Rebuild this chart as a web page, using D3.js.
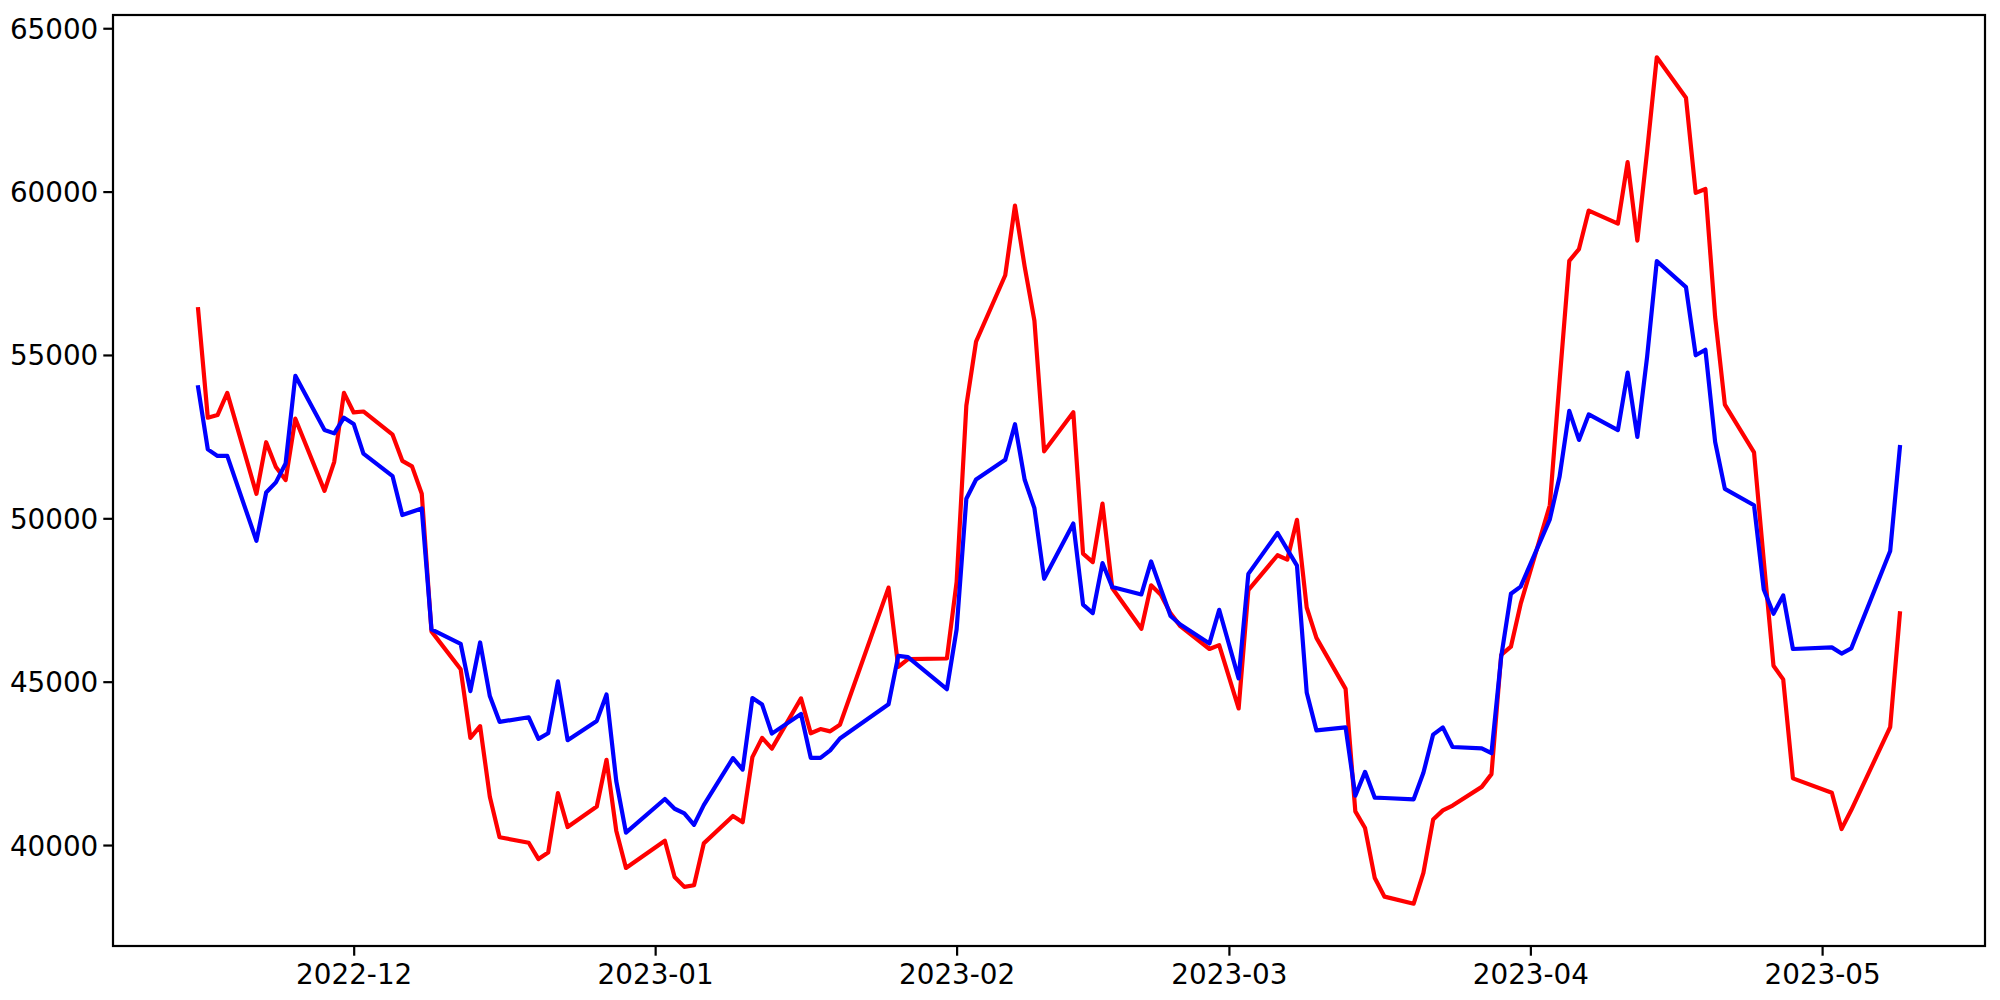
<!DOCTYPE html>
<html>
<head>
<meta charset="utf-8">
<script src="https://cdn.jsdelivr.net/npm/d3@7"></script>
<style>
  html, body { margin: 0; padding: 0; background: #fff; }
  svg { display: block; }
</style>
</head>
<body>
<svg id="chart" width="2000" height="1000"></svg>
<script>
// ---- data ----
const dates = [
  "2022-11-15","2022-11-16","2022-11-17","2022-11-18","2022-11-21","2022-11-22","2022-11-23","2022-11-24","2022-11-25","2022-11-28","2022-11-29","2022-11-30",
  "2022-12-01","2022-12-02","2022-12-05","2022-12-06","2022-12-07","2022-12-08","2022-12-09","2022-12-12","2022-12-13","2022-12-14","2022-12-15","2022-12-16","2022-12-19","2022-12-20","2022-12-21","2022-12-22","2022-12-23","2022-12-26","2022-12-27","2022-12-28","2022-12-29",
  "2023-01-02","2023-01-03","2023-01-04","2023-01-05","2023-01-06","2023-01-09","2023-01-10","2023-01-11","2023-01-12","2023-01-13","2023-01-16","2023-01-17","2023-01-18","2023-01-19","2023-01-20","2023-01-25","2023-01-26","2023-01-27","2023-01-31",
  "2023-02-01","2023-02-02","2023-02-03","2023-02-06","2023-02-07","2023-02-08","2023-02-09","2023-02-10","2023-02-13","2023-02-14","2023-02-15","2023-02-16","2023-02-17","2023-02-20","2023-02-21","2023-02-22","2023-02-23","2023-02-24","2023-02-27","2023-02-28",
  "2023-03-02","2023-03-03","2023-03-06","2023-03-07","2023-03-08","2023-03-09","2023-03-10","2023-03-13","2023-03-14","2023-03-15","2023-03-16","2023-03-17","2023-03-20","2023-03-21","2023-03-22","2023-03-23","2023-03-24","2023-03-27","2023-03-28","2023-03-29","2023-03-30","2023-03-31",
  "2023-04-03","2023-04-04","2023-04-05","2023-04-06","2023-04-07","2023-04-10","2023-04-11","2023-04-12","2023-04-13","2023-04-14","2023-04-17","2023-04-18","2023-04-19","2023-04-20","2023-04-21","2023-04-24","2023-04-25","2023-04-26","2023-04-27","2023-04-28",
  "2023-05-02","2023-05-03","2023-05-04","2023-05-08","2023-05-09"
];

const redValues = [
  56400,53080,53160,53840,50750,52330,51570,51170,53050,50840,51730,53840,
  53240,53270,52560,51760,51590,50750,46540,45380,43280,43640,41480,40240,40070,39570,39770,41590,40550,41180,42610,40440,39300,
  40130,39020,38720,38770,40050,40890,40700,42690,43280,42950,44490,43420,43550,43480,43680,47880,45450,45690,45710,
  48050,53450,55410,57440,59570,57700,56050,52050,53250,48920,48660,50450,47870,46620,47950,47660,47090,46700,46000,46120,
  44180,47800,48870,48735,49955,47270,46340,44780,41030,40520,38990,38420,38205,39150,40780,41060,41210,41780,42170,45820,46070,47380,
  50400,54190,57880,58240,59420,59020,60900,58500,61220,64110,62870,59960,60080,56160,53480,52020,48700,45490,45070,42040,
  41600,40490,41070,43610,47090
];

const blueValues = [
  54010,52110,51910,51910,49310,50790,51100,51680,54360,52700,52600,53080,
  52890,51980,51290,50100,50200,50300,46600,46160,44710,46200,44560,43770,43910,43250,43420,45010,43210,43800,44610,41960,40380,
  41410,41110,40970,40620,41220,42660,42310,44500,44300,43410,44010,42670,42670,42900,43260,44310,45790,45750,44770,
  46600,50600,51190,51790,52880,51180,50310,48150,49840,47360,47100,48630,47900,47670,48680,47840,47010,46750,46170,47200,
  45100,48300,49550,49050,48550,44670,43510,43600,41510,42240,41450,41440,41400,42210,43380,43600,43000,42960,42810,45760,47690,47910,
  49970,51270,53290,52400,53180,52700,54460,52490,54930,57870,57075,54990,55160,52340,50900,50400,47820,47080,47640,46000,
  46050,45860,46020,49000,52180
];

const yTickValues = [40000, 45000, 50000, 55000, 60000, 65000];
const xTickDates = ["2022-12-01","2023-01-01","2023-02-01","2023-03-01","2023-04-01","2023-05-01"];

// ---- layout ----
const W = 2000, H = 1000;
const plot = { left: 113, right: 1985, top: 15, bottom: 946 };
const FONT = "'DejaVu Sans', sans-serif";
const FS = 27.8;

const parse = d3.utcParse("%Y-%m-%d");
const dateObjs = dates.map(parse);
const redData = dateObjs.map((d, i) => ({ date: d, value: redValues[i] }));
const blueData = dateObjs.map((d, i) => ({ date: d, value: blueValues[i] }));

// matplotlib-like 5% margins
const [t0, t1] = d3.extent(dateObjs);
const tSpan = t1 - t0;
const x = d3.scaleUtc()
  .domain([new Date(+t0 - 0.05 * tSpan), new Date(+t1 + 0.05 * tSpan)])
  .range([plot.left, plot.right]);

const allVals = redValues.concat(blueValues);
const [vMin, vMax] = d3.extent(allVals);
const vSpan = vMax - vMin;
const y = d3.scaleLinear()
  .domain([vMin - 0.05 * vSpan, vMax + 0.05 * vSpan])
  .range([plot.bottom, plot.top]);

const svg = d3.select("#chart");
svg.append("rect").attr("width", W).attr("height", H).attr("fill", "#fff");

const line = d3.line().x(d => x(d.date)).y(d => y(d.value));

const g = svg.append("g");
g.append("path").datum(redData)
  .attr("d", line).attr("fill", "none")
  .attr("stroke", "#ff0000").attr("stroke-width", 4.2)
  .attr("stroke-linejoin", "round").attr("stroke-linecap", "square");
g.append("path").datum(blueData)
  .attr("d", line).attr("fill", "none")
  .attr("stroke", "#0000ff").attr("stroke-width", 4.2)
  .attr("stroke-linejoin", "round").attr("stroke-linecap", "square");

// ---- axes ----
const xAxis = d3.axisBottom(x)
  .tickValues(xTickDates.map(parse))
  .tickFormat(d3.utcFormat("%Y-%m"))
  .tickSize(9.7).tickPadding(7);
const yAxis = d3.axisLeft(y)
  .tickValues(yTickValues)
  .tickFormat(d3.format("d"))
  .tickSize(9.7).tickPadding(5);

const gx = svg.append("g").attr("transform", `translate(0,${plot.bottom})`).call(xAxis);
const gy = svg.append("g").attr("transform", `translate(${plot.left},0)`).call(yAxis);

[gx, gy].forEach(ax => {
  ax.select(".domain").remove();
  ax.selectAll(".tick line").attr("stroke", "#000").attr("stroke-width", 2.2);
  ax.selectAll(".tick text")
    .attr("fill", "#000")
    .style("font-family", FONT)
    .style("font-size", FS + "px");
});
gx.selectAll(".tick text").attr("dy", "0.76em");
gy.selectAll(".tick text").attr("dy", "0.36em");

// frame
svg.append("rect")
  .attr("x", plot.left).attr("y", plot.top)
  .attr("width", plot.right - plot.left).attr("height", plot.bottom - plot.top)
  .attr("fill", "none").attr("stroke", "#000").attr("stroke-width", 2.2);
</script>
</body>
</html>
